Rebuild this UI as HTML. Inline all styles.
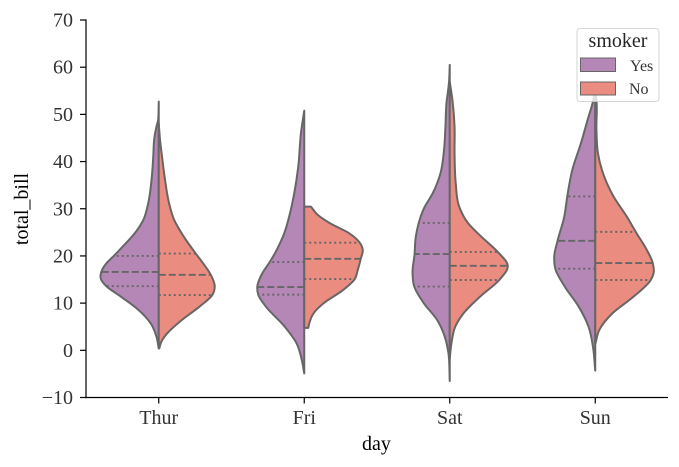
<!DOCTYPE html>
<html>
<head>
<meta charset="utf-8">
<title>Violin chart of total bill by day</title>
<style>
html,body{margin:0;padding:0;background:#fff;}
svg{display:block;font-family:"Liberation Serif",serif;}
</style>
</head>
<body>
<svg id="chart" xmlns="http://www.w3.org/2000/svg" width="679" height="467" viewBox="0 0 679 467">
  <rect width="679" height="467" fill="#fff"/>
  <g id="violins"></g>
  <g id="axes"></g>
  <text x="376.5" y="450" font-size="20" text-anchor="middle" fill="#000">day</text>
  <text transform="translate(28,209) rotate(-90)" font-size="20" text-anchor="middle" fill="#000">total_bill</text>
  <g>
    <rect x="577" y="28.5" width="82" height="73" rx="3" fill="#fff" fill-opacity="0.8" stroke="#ccc" stroke-opacity="0.8" stroke-width="1"/>
    <text x="618" y="47" font-size="20" text-anchor="middle" fill="#262626">smoker</text>
    <rect x="580.5" y="58" width="35" height="13.5" fill="#b587b6" stroke="#666" stroke-width="1"/>
    <text x="630" y="71" font-size="16" fill="#333">Yes</text>
    <rect x="580.5" y="82" width="35" height="13" fill="#ea8c7f" stroke="#666" stroke-width="1"/>
    <text x="629" y="94" font-size="16" fill="#333">No</text>
  </g>
</svg>
<script>
const categories = ['Thur', 'Fri', 'Sat', 'Sun'];
const yTicks = [-10, 0, 10, 20, 30, 40, 50, 60, 70];

const thurYesValues = [52.7, 48.8, 47.5, 45, 41, 36.1, 31.2, 27.6, 24.8, 22, 20, 18.4, 16.6, 15.2, 13.6, 11.4, 8.6, 5.7, 2.9, 0.4];
const thurYesDensity = [0, 0.6, 2.2, 4.4, 5.5, 7.2, 10.5, 15.5, 24, 36, 45, 52.5, 57.5, 58, 52.5, 38, 20.5, 8, 2.3, 0];
const thurNoValues = [48.1, 44.6, 41, 36.1, 31.2, 27.6, 24.1, 20.5, 18.4, 16, 13.5, 11.7, 9.3, 6.4, 3.6, 2, 0.4];
const thurNoDensity = [0, 1.3, 3.3, 6.3, 10.3, 15.5, 25, 37, 44.5, 52, 56, 53.5, 41, 23, 8.5, 3, 0.5];

const friYesValues = [50.8, 46, 38.9, 33.3, 29, 24.8, 21.3, 18.7, 16.3, 13.4, 11.8, 9.3, 5, 1.5, -2, -4.9];
const friYesDensity = [0, 3.3, 6, 10, 14.3, 20, 27.5, 34.5, 42, 47, 46, 38.5, 19.5, 7.7, 2.5, 0];
const friNoValues = [30.45, 28.7, 26.9, 24.8, 22.8, 21.3, 19.4, 17, 15.1, 12.8, 10, 7.9, 5.7, 4.75];
const friNoDensity = [6.7, 13.5, 26, 45, 55.5, 58.5, 56.5, 53.5, 50.5, 39, 19.5, 9.5, 5, 4];

const satYesValues = [60.5, 56.9, 52.3, 47.4, 42.5, 37.5, 33.3, 30, 27, 24, 20.4, 16.3, 13.5, 10, 6.4, 2.9, -0.6, -6.5];
const satYesDensity = [0, 0.7, 3.3, 4.3, 5.7, 9.3, 17, 26, 31, 34, 35.2, 37.2, 35.5, 26, 12.5, 5, 1.3, 0];
const satNoValues = [56.9, 53, 47.4, 41.8, 35.4, 30.4, 26.9, 24.1, 20.85, 17.9, 14.9, 11.4, 7.9, 5, 1.5, -1.7];
const satNoDensity = [0, 2.7, 4.8, 4.8, 6, 9.5, 18.5, 31.5, 48, 58, 49.5, 30.5, 14, 5.5, 1.7, 0];

const sunYesValues = [56.9, 53, 48.8, 43.9, 38.2, 32.6, 28.3, 23.2, 19.9, 17.3, 13.5, 9.3, 5, 0.8, -4.3];
const sunYesDensity = [0, 2, 7.7, 14.3, 23, 28, 31, 37.7, 41, 40, 30.5, 16.7, 6.7, 2.3, 0];
const sunNoValues = [55, 53, 46.7, 41.75, 38.2, 32.6, 28.3, 25.1, 21.3, 18.5, 16.3, 14.9, 11.4, 7.9, 4.3, 1.5];
const sunNoDensity = [0, 1.2, 1.2, 2.7, 6.7, 18.3, 31.7, 40.5, 51.5, 57.5, 58.3, 55.5, 38.5, 17.5, 4, 0.3];

const thurYesQuartiles = [13.6, 16.6, 20];
const thurNoQuartiles = [11.7, 16, 20.5];
const friYesQuartiles = [11.8, 13.4, 18.7];
const friNoQuartiles = [15.1, 19.4, 22.8];
const satYesQuartiles = [13.5, 20.4, 27];
const satNoQuartiles = [14.9, 17.9, 20.85];
const sunYesQuartiles = [17.3, 23.2, 32.6];
const sunNoQuartiles = [14.9, 18.5, 25.1];

const valuesYes = [thurYesValues, friYesValues, satYesValues, sunYesValues];
const densityYes = [thurYesDensity, friYesDensity, satYesDensity, sunYesDensity];
const quartilesYes = [thurYesQuartiles, friYesQuartiles, satYesQuartiles, sunYesQuartiles];
const valuesNo = [thurNoValues, friNoValues, satNoValues, sunNoValues];
const densityNo = [thurNoDensity, friNoDensity, satNoDensity, sunNoDensity];
const quartilesNo = [thurNoQuartiles, friNoQuartiles, satNoQuartiles, sunNoQuartiles];

const NS = 'http://www.w3.org/2000/svg';
const plotLeft = 86, plotRight = 668, plotTop = 20, plotBottom = 397.5;
const yMin = -10, yMax = 70;
const bandWidth = (plotRight - plotLeft) / categories.length;
const LINE = '#666';

function xScale(i) { return plotLeft + bandWidth * (i + 0.5); }
function yScale(v) { return plotBottom - (v - yMin) / (yMax - yMin) * (plotBottom - plotTop); }
function widthScale(d) { return d; }

function tangents(values, density) {
  const n = values.length;
  const m = [];
  for (let i = 0; i < n; i++) {
    if (i === 0) {
      m.push((density[1] - density[0]) / (values[1] - values[0]));
    } else if (i === n - 1) {
      m.push((density[i] - density[i - 1]) / (values[i] - values[i - 1]));
    } else {
      const h0 = values[i] - values[i - 1], h1 = values[i + 1] - values[i];
      const s0 = (density[i] - density[i - 1]) / h0, s1 = (density[i + 1] - density[i]) / h1;
      m.push((s1 * h0 + s0 * h1) / (h0 + h1));
    }
  }
  return m;
}

function densityAt(values, density, v) {
  const m = tangents(values, density);
  for (let i = 0; i < values.length - 1; i++) {
    if (v <= values[i] && v >= values[i + 1]) {
      const h = values[i + 1] - values[i];
      const t = (v - values[i]) / h;
      const c1 = density[i] + m[i] * h / 3, c2 = density[i + 1] - m[i + 1] * h / 3;
      const u = 1 - t;
      return u * u * u * density[i] + 3 * u * u * t * c1 + 3 * u * t * t * c2 + t * t * t * density[i + 1];
    }
  }
  return 0;
}

function violinPath(cx, side, values, density) {
  const m = tangents(values, density);
  const px = (d) => (cx + side * widthScale(Math.max(0, d))).toFixed(2);
  let d = 'M' + cx + ',' + yScale(values[0]).toFixed(2) + 'L' + px(density[0]) + ',' + yScale(values[0]).toFixed(2);
  for (let i = 0; i < values.length - 1; i++) {
    const h = values[i + 1] - values[i];
    const v1 = values[i] + h / 3, v2 = values[i + 1] - h / 3;
    const d1 = density[i] + m[i] * h / 3, d2 = density[i + 1] - m[i + 1] * h / 3;
    d += 'C' + px(d1) + ',' + yScale(v1).toFixed(2) + ' ' + px(d2) + ',' + yScale(v2).toFixed(2) + ' ' + px(density[i + 1]) + ',' + yScale(values[i + 1]).toFixed(2);
  }
  d += 'L' + cx + ',' + yScale(values[values.length - 1]).toFixed(2) + 'Z';
  return d;
}

const violinsGroup = document.getElementById('violins');
const axesGroup = document.getElementById('axes');

function drawHalf(catIndex, side, values, density, quartiles, fill, label) {
  const cx = xScale(catIndex);
  const path = document.createElementNS(NS, 'path');
  
  
  path.setAttribute('d', violinPath(cx, side, values, density));
  path.setAttribute('fill', fill);
  path.setAttribute('stroke', LINE);
  path.setAttribute('stroke-width', '2');
  path.setAttribute('stroke-linejoin', 'round');
  violinsGroup.appendChild(path);

  quartiles.forEach((q, k) => {
    const line = document.createElementNS(NS, 'line');
    
    
    line.setAttribute('x1', cx);
    line.setAttribute('x2', cx + side * widthScale(densityAt(values, density, q)));
    line.setAttribute('y1', yScale(q));
    line.setAttribute('y2', yScale(q));
    line.setAttribute('stroke', LINE);
    line.setAttribute('stroke-width', '1.9');
    line.setAttribute('stroke-dasharray', k === 1 ? '7 3' : '2 3');
    violinsGroup.appendChild(line);
  });
}

categories.forEach((cat, i) => {
  drawHalf(i, -1, valuesYes[i], densityYes[i], quartilesYes[i], '#b587b6', 'yes');
  drawHalf(i, 1, valuesNo[i], densityNo[i], quartilesNo[i], '#ea8c7f', 'no');
});

yTicks.forEach((t) => {
  const tick = document.createElementNS(NS, 'line');
  
  
  tick.setAttribute('x1', plotLeft - 6);
  tick.setAttribute('x2', plotLeft);
  tick.setAttribute('y1', yScale(t));
  tick.setAttribute('y2', yScale(t));
  tick.setAttribute('stroke', '#000');
  tick.setAttribute('stroke-width', '1.2');
  axesGroup.appendChild(tick);

  const label = document.createElementNS(NS, 'text');
  
  
  label.setAttribute('x', plotLeft - 13);
  label.setAttribute('y', yScale(t) + 6.5);
  label.setAttribute('font-size', '20');
  label.setAttribute('text-anchor', 'end');
  label.setAttribute('fill', '#333');
  label.textContent = String(t).replace('-', '\u2212');
  axesGroup.appendChild(label);
});

categories.forEach((cat, i) => {
  const tick = document.createElementNS(NS, 'line');
  
  
  tick.setAttribute('x1', xScale(i));
  tick.setAttribute('x2', xScale(i));
  tick.setAttribute('y1', plotBottom);
  tick.setAttribute('y2', plotBottom + 6);
  tick.setAttribute('stroke', '#000');
  tick.setAttribute('stroke-width', '1.2');
  axesGroup.appendChild(tick);

  const label = document.createElementNS(NS, 'text');
  
  
  label.setAttribute('x', xScale(i));
  label.setAttribute('y', plotBottom + 26.5);
  label.setAttribute('font-size', '20');
  label.setAttribute('text-anchor', 'middle');
  label.setAttribute('fill', '#333');
  label.textContent = cat;
  axesGroup.appendChild(label);
});

const yAxisLine = document.createElementNS(NS, 'line');


yAxisLine.setAttribute('x1', plotLeft);
yAxisLine.setAttribute('x2', plotLeft);
yAxisLine.setAttribute('y1', plotTop - 0.6);
yAxisLine.setAttribute('y2', plotBottom + 0.6);
yAxisLine.setAttribute('stroke', '#000');
yAxisLine.setAttribute('stroke-width', '1.2');
axesGroup.appendChild(yAxisLine);

const xAxisLine = document.createElementNS(NS, 'line');


xAxisLine.setAttribute('x1', plotLeft - 0.6);
xAxisLine.setAttribute('x2', plotRight);
xAxisLine.setAttribute('y1', plotBottom);
xAxisLine.setAttribute('y2', plotBottom);
xAxisLine.setAttribute('stroke', '#000');
xAxisLine.setAttribute('stroke-width', '1.2');
axesGroup.appendChild(xAxisLine);
</script>
</body>
</html>
